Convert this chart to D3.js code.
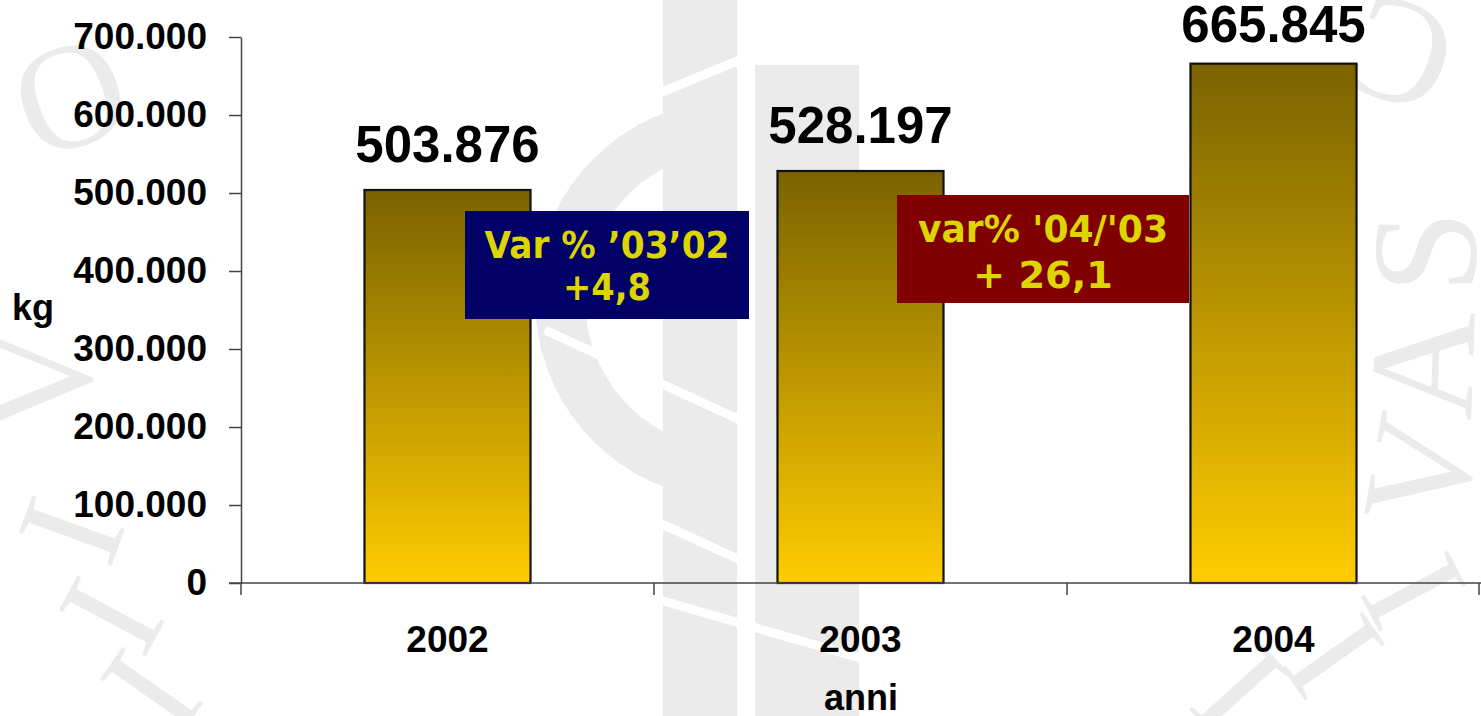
<!DOCTYPE html>
<html lang="it">
<head>
  <meta charset="UTF-8">
  <title>kg per anno</title>
  <script src="https://d3js.org/d3.v7.min.js"></script>
  <style>
    body { margin: 0; padding: 0; background: #fff; }
    svg { display: block; }
    .axis text { font-family: "Liberation Sans", Arial, sans-serif; font-weight: bold; fill: #000; }
    .axis path, .axis line { stroke: #444; stroke-width: 1.5; }
  </style>
</head>
<body>
<div id="chart"></div>
<script>
// data
const years = ["2002", "2003", "2004"];
const kg = [503876, 528197, 665845];
const yTicks = [0, 100000, 200000, 300000, 400000, 500000, 600000, 700000];
const notes = [
  { lines: ["Var % \u201903\u201902", "+4,8"], fill: "#000066" },
  { lines: ["var% '04/'03", "+ 26,1"], fill: "#800000" }
];

const width = 1481, height = 716;
const margin = { top: 37, right: 1, bottom: 133, left: 241 };

const svg = d3.select("#chart").append("svg")
  .attr("width", width).attr("height", height);

// faint watermark in the background
const wm = svg.append("g").attr("fill", "#ebebeb");
wm.append("rect").attr("x", 663).attr("y", 0).attr("width", 74).attr("height", height);
wm.append("rect").attr("x", 755).attr("y", 65).attr("width", 104).attr("height", height - 65);
wm.append("path")
  .attr("d", d3.arc().innerRadius(150).outerRadius(200).startAngle(-Math.PI * 0.95).endAngle(-Math.PI * 0.05)())
  .attr("transform", "translate(735,300)");
const cuts = [[545, 140, 740, 60], [545, 330, 740, 420], [545, 470, 740, 560], [660, 600, 1060, 716]];
svg.append("g").selectAll("line").data(cuts).join("line")
  .attr("x1", d => d[0]).attr("y1", d => d[1]).attr("x2", d => d[2]).attr("y2", d => d[3])
  .attr("stroke", "#fff").attr("stroke-width", 9);
const wmLetters = [
  ["O", 70, 95, -20], ["V", 40, 380, -90], ["I", 70, 530, -70], ["I", 110, 615, -62], ["I", 150, 690, -55],
  ["C", 1400, 55, 200], ["S", 1425, 252, -90], ["A", 1422, 365, -88], ["V", 1420, 470, -80],
  ["I", 1415, 590, 62], ["I", 1335, 655, 55], ["I", 1240, 690, 48]
];
wm.selectAll("text").data(wmLetters).join("text")
  .attr("transform", d => `translate(${d[1]},${d[2]}) rotate(${d[3]})`)
  .attr("text-anchor", "middle").attr("dominant-baseline", "central")
  .style("font-family", "'Liberation Serif', serif").style("font-size", "150px")
  .text(d => d[0]);

// gradient for bars
const grad = svg.append("defs").append("linearGradient")
  .attr("id", "barGrad").attr("x1", 0).attr("y1", 0).attr("x2", 0).attr("y2", 1);
grad.append("stop").attr("offset", "0%").attr("stop-color", "#7a6200");
grad.append("stop").attr("offset", "100%").attr("stop-color", "#ffcc00");

const x = d3.scaleBand().domain(years).range([margin.left, width - margin.right]).padding(0);
const y = d3.scaleLinear().domain([0, 700000]).range([height - margin.bottom, margin.top]);

const loc = d3.formatLocale({ decimal: ",", thousands: ".", grouping: [3], currency: ["", ""] });
const fmt = loc.format(",d");

// bars
const barW = x.bandwidth() * 0.402;
svg.append("g").selectAll("rect").data(years).join("rect")
  .attr("x", d => x(d) + (x.bandwidth() - barW) / 2)
  .attr("y", (d, i) => y(kg[i]))
  .attr("width", barW)
  .attr("height", (d, i) => y(0) - y(kg[i]))
  .attr("fill", "url(#barGrad)")
  .attr("stroke", "#111").attr("stroke-width", 2.2);

// value labels
svg.append("g").selectAll("text").data(years).join("text")
  .attr("x", d => x(d) + x.bandwidth() / 2)
  .attr("y", (d, i) => Math.max(y(kg[i]) - 28, 42))
  .attr("text-anchor", "middle")
  .style("font-family", "'Liberation Sans', Arial, sans-serif")
  .style("font-weight", "bold").style("font-size", "51px")
  .text((d, i) => fmt(kg[i]));

// y axis
const yAxis = svg.append("g").attr("class", "axis")
  .attr("transform", `translate(${margin.left},0)`)
  .call(d3.axisLeft(y).tickValues(yTicks).tickFormat(fmt).tickSize(12).tickPadding(22).tickSizeOuter(0));
yAxis.selectAll("text").style("font-size", "37px");

// x axis: baseline with ticks at category boundaries
const xg = svg.append("g").attr("class", "axis");
xg.append("line")
  .attr("x1", margin.left - 12).attr("x2", width)
  .attr("y1", y(0)).attr("y2", y(0));
const bounds = years.map(d => x(d)).concat([x(years[years.length - 1]) + x.bandwidth() - 1]);
xg.selectAll("line.tk").data(bounds).join("line").attr("class", "tk")
  .attr("x1", d => d).attr("x2", d => d)
  .attr("y1", y(0)).attr("y2", y(0) + 12);
xg.selectAll("text").data(years).join("text")
  .attr("x", d => x(d) + x.bandwidth() / 2)
  .attr("y", 652)
  .attr("text-anchor", "middle")
  .style("font-size", "37px")
  .text(d => d);

// axis titles
svg.append("text").attr("x", 12).attr("y", 320)
  .style("font-family", "'Liberation Sans', Arial, sans-serif")
  .style("font-weight", "bold").style("font-size", "36px").text("kg");
svg.append("text").attr("x", (margin.left + width) / 2).attr("y", 710)
  .attr("text-anchor", "middle")
  .style("font-family", "'Liberation Sans', Arial, sans-serif")
  .style("font-weight", "bold").style("font-size", "36px").text("anni");

// annotation boxes
const boxPos = [
  { x: 465, y: 211, w: 284, h: 108, base: [258, 300], tl: [245, 88] },
  { x: 897, y: 195, w: 292, h: 108, base: [242, 288], tl: [250, 140] }
];
notes.forEach((n, i) => {
  const b = boxPos[i];
  const g = svg.append("g");
  g.append("rect").attr("x", b.x).attr("y", b.y).attr("width", b.w).attr("height", b.h).attr("fill", n.fill);
  n.lines.forEach((t, j) => {
    g.append("text")
      .attr("x", b.x + b.w / 2).attr("y", b.base[j])
      .attr("text-anchor", "middle")
      .attr("textLength", b.tl[j]).attr("lengthAdjust", "spacingAndGlyphs")
      .style("font-family", "'DejaVu Sans', Verdana, sans-serif")
      .style("font-weight", "bold").style("font-size", "38px")
      .attr("fill", "#ddd500")
      .text(t);
  });
});
</script>
</body>
</html>
